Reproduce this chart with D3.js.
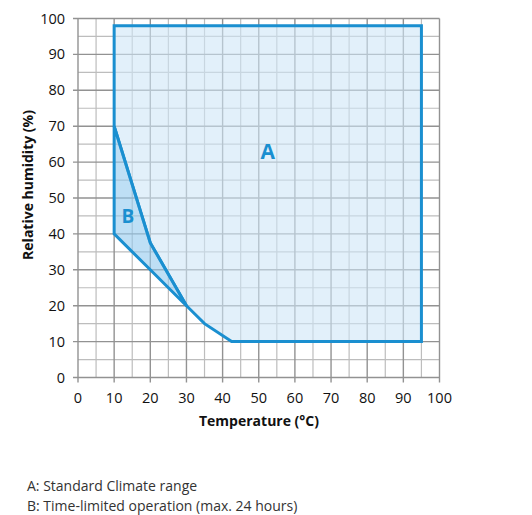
<!DOCTYPE html>
<html>
<head>
<meta charset="utf-8">
<script src="https://cdn.jsdelivr.net/npm/d3@7"></script>
<style>
  body { margin: 0; background: #fff; }
  text { font-family: "Open Sans", "Noto Sans", sans-serif; }
</style>
</head>
<body>
<div id="chart"></div>
<script>
// operating range of the climate chamber
const areaA = [[10, 98], [95, 98], [95, 10], [42.5, 10], [35, 15], [30, 20], [20, 37.5], [10, 70]];
const areaB = [[10, 70], [20, 37.5], [30, 20], [20, 30], [10, 40]];
const xTicks = [0, 10, 20, 30, 40, 50, 60, 70, 80, 90, 100];
const yTicks = [0, 10, 20, 30, 40, 50, 60, 70, 80, 90, 100];
const minorTicks = [5, 15, 25, 35, 45, 55, 65, 75, 85, 95];
const legendLines = ["A: Standard Climate range", "B: Time-limited operation (max. 24 hours)"];

const W = 532, H = 515;
const svg = d3.select("#chart").append("svg").attr("width", W).attr("height", H);

const x = d3.scaleLinear().domain([0, 100]).range([78, 439.5]);
const y = d3.scaleLinear().domain([0, 100]).range([377.5, 18.5]);

const blue = "#1a8fd0";

// minor grid
const grid = svg.append("g");
grid.selectAll(".mx").data(minorTicks).join("line")
  .attr("x1", d => x(d)).attr("x2", d => x(d))
  .attr("y1", y(0)).attr("y2", y(100))
  .attr("stroke", "#bdbdbd").attr("stroke-width", 1.2);
grid.selectAll(".my").data(minorTicks).join("line")
  .attr("y1", d => y(d)).attr("y2", d => y(d))
  .attr("x1", x(0)).attr("x2", x(100))
  .attr("stroke", "#bdbdbd").attr("stroke-width", 1.2);

// major grid, slightly past the plot as ticks
grid.selectAll(".Mx").data(xTicks).join("line")
  .attr("x1", d => x(d)).attr("x2", d => x(d))
  .attr("y1", y(0) + 5).attr("y2", y(100))
  .attr("stroke", "#929292").attr("stroke-width", 1.4);
grid.selectAll(".My").data(yTicks).join("line")
  .attr("y1", d => y(d)).attr("y2", d => y(d))
  .attr("x1", x(0) - 5).attr("x2", x(100))
  .attr("stroke", "#929292").attr("stroke-width", 1.4);

// tick labels
svg.append("g").selectAll("text").data(xTicks).join("text")
  .attr("x", d => x(d)).attr("y", 403)
  .attr("text-anchor", "middle").attr("font-size", 14.5).attr("fill", "#111")
  .text(d => d);
svg.append("g").selectAll("text").data(yTicks).join("text")
  .attr("x", 65).attr("y", d => y(d) + 5)
  .attr("text-anchor", "end").attr("font-size", 14.5).attr("fill", "#111")
  .text(d => d);

// regions
const line = d3.line().x(d => x(d[0])).y(d => y(d[1]));
svg.append("path").attr("d", line(areaA) + "Z")
  .attr("fill", "#cfe6f7").attr("fill-opacity", 0.6)
  .attr("stroke", blue).attr("stroke-width", 3).attr("stroke-linejoin", "miter");
svg.append("path").attr("d", line(areaB) + "Z")
  .attr("fill", "#93c9ee").attr("fill-opacity", 0.6)
  .attr("stroke", blue).attr("stroke-width", 3).attr("stroke-linejoin", "miter");

svg.append("text").attr("x", x(52.5)).attr("y", y(63) + 8)
  .attr("text-anchor", "middle").attr("font-size", 21).attr("font-weight", "bold")
  .attr("fill", blue).text("A");
svg.append("text").attr("x", x(13.8)).attr("y", y(45) + 7)
  .attr("text-anchor", "middle").attr("font-size", 19).attr("font-weight", "bold")
  .attr("fill", blue).text("B");

// axis titles
svg.append("text").attr("x", 259).attr("y", 426)
  .attr("text-anchor", "middle").attr("font-size", 14).attr("font-weight", "bold")
  .attr("fill", "#111").text("Temperature (°C)");
svg.append("text").attr("transform", "translate(33,185) rotate(-90)")
  .attr("text-anchor", "middle").attr("font-size", 14).attr("font-weight", "bold")
  .attr("fill", "#111").text("Relative humidity (%)");

// legend
svg.append("g").selectAll("text").data(legendLines).join("text")
  .attr("x", 27).attr("y", (d, i) => 491 + i * 20)
  .attr("font-size", 14).attr("fill", "#333")
  .text(d => d);
</script>
</body>
</html>
